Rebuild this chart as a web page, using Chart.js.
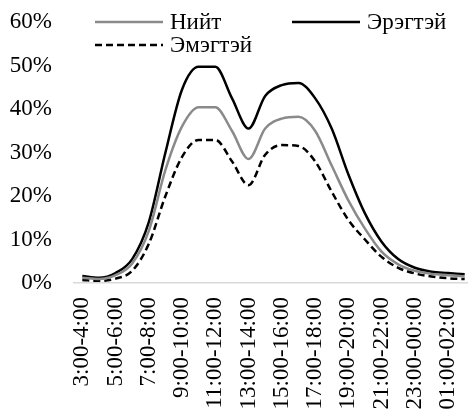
<!DOCTYPE html>
<html>
<head>
<meta charset="utf-8">
<script src="https://cdn.jsdelivr.net/npm/chart.js@4/dist/chart.umd.min.js"></script>
<style>
  html, body { margin: 0; padding: 0; background: #fff; overflow: hidden; }
  #wrap { width: 476px; height: 416px; }
</style>
</head>
<body>
<div id="wrap"><canvas id="chart" width="476" height="416"></canvas></div>
<script>
// хугацааны интервалууд
const hours = ['3:00-4:00', '4:00-5:00', '5:00-6:00', '6:00-7:00', '7:00-8:00', '8:00-9:00',
  '9:00-10:00', '10:00-11:00', '11:00-12:00', '12:00-13:00', '13:00-14:00', '14:00-15:00',
  '15:00-16:00', '16:00-17:00', '17:00-18:00', '18:00-19:00', '19:00-20:00', '20:00-21:00',
  '21:00-22:00', '22:00-23:00', '23:00-00:00', '00:00-01:00', '01:00-02:00', '02:00-03:00'];

// хувь (%)
const total = [1.2, 0.9, 1.8, 4.5, 12, 26, 36, 40.4, 40.4, 35, 28.5, 35.5,
  37.8, 38.2, 35, 27, 19, 12.5, 7.2, 4.3, 2.8, 2.1, 1.8, 1.5];
const male = [1.6, 1.2, 2.3, 5.5, 14, 30, 44.5, 49.7, 49.7, 42.5, 35.5, 43,
  45.5, 46, 42.5, 35.5, 25, 16, 9.5, 5.5, 3.5, 2.6, 2.3, 2.0];
const female = [0.7, 0.5, 1.0, 2.8, 9, 20, 29, 32.9, 32.9, 28, 22.5, 29.5,
  31.7, 31.5, 28, 21, 14.5, 10, 6, 3.5, 2.2, 1.5, 1.1, 0.9];

const yTicks = [0, 10, 20, 30, 40, 50, 60];

const font = { family: '"Liberation Serif", "Times New Roman", serif', size: 23 };

// legend drawn inside the plot, two rows like the original
const legendPlugin = {
  id: 'innerLegend',
  afterDraw(chart) {
    const ctx = chart.ctx;
    const spots = [
      { x: 95, y: 22 },
      { x: 292, y: 22 },
      { x: 95, y: 45 }
    ];
    ctx.save();
    ctx.font = font.size + 'px ' + font.family;
    ctx.textBaseline = 'middle';
    chart.data.datasets.forEach((ds, k) => {
      const p = spots[k];
      ctx.beginPath();
      ctx.strokeStyle = ds.borderColor;
      ctx.lineWidth = ds.borderWidth;
      ctx.setLineDash(ds.borderDash || []);
      ctx.moveTo(p.x, p.y);
      ctx.lineTo(p.x + 68, p.y);
      ctx.stroke();
      ctx.setLineDash([]);
      ctx.fillStyle = '#000';
      ctx.fillText(ds.label, p.x + 75, p.y + 1);
    });
    ctx.restore();
  }
};

new Chart(document.getElementById('chart'), {
  type: 'line',
  data: {
    labels: hours,
    datasets: [
      { label: 'Нийт', data: total, borderColor: '#8a8a8a', borderWidth: 2.5, cubicInterpolationMode: 'monotone', pointRadius: 0, fill: false },
      { label: 'Эрэгтэй', data: male, borderColor: '#000000', borderWidth: 2.5, cubicInterpolationMode: 'monotone', pointRadius: 0, fill: false },
      { label: 'Эмэгтэй', data: female, borderColor: '#000000', borderWidth: 2.5, borderDash: [7, 4], cubicInterpolationMode: 'monotone', pointRadius: 0, fill: false }
    ]
  },
  options: {
    responsive: false,
    animation: false,
    layout: { padding: { top: 22, left: 0, right: 3, bottom: 0 } },
    plugins: {
      legend: { display: false },
      tooltip: { enabled: false }
    },
    scales: {
      x: {
        offset: true,
        grid: { display: false, drawTicks: false },
        border: { display: true, color: '#d9d9d9', width: 1.5 },
        ticks: {
          color: '#000',
          font: font,
          autoSkip: false,
          maxRotation: 90,
          minRotation: 90,
          padding: 14,
          callback: function (v, i) { return i % 2 === 0 ? this.getLabelForValue(v) : ''; }
        },
        afterFit: (axis) => {
          axis.height = 133;
          axis.paddingLeft = 0;
          axis.paddingRight = 0;
        }
      },
      y: {
        min: 0,
        max: 60,
        afterBuildTicks: (axis) => { axis.ticks = yTicks.map(v => ({ value: v })); },
        grid: { display: false, drawTicks: false },
        border: { display: false },
        ticks: {
          color: '#000',
          font: font,
          padding: 22,
          callback: v => v + '%'
        },
        afterFit: (axis) => {
          axis.width = 74;
          axis.paddingTop = 0;
          axis.paddingBottom = 0;
        }
      }
    }
  },
  plugins: [legendPlugin]
});
</script>
</body>
</html>
